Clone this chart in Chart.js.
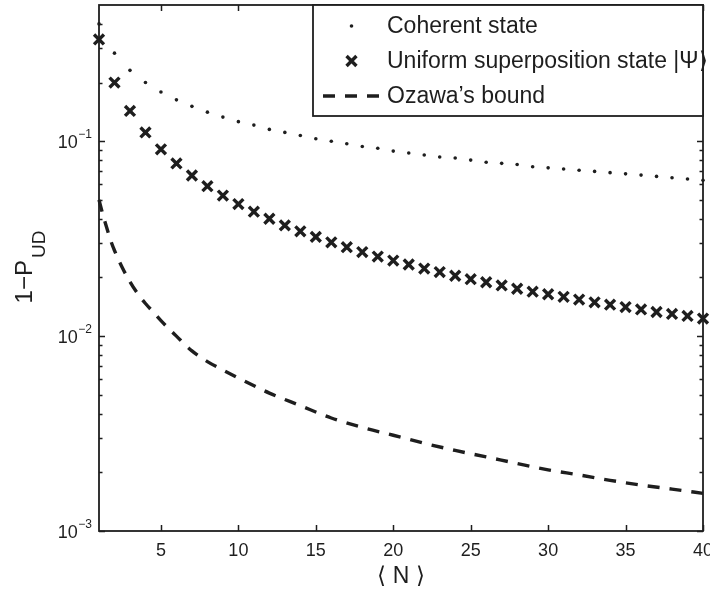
<!DOCTYPE html>
<html><head><meta charset="utf-8">
<script src="https://cdn.jsdelivr.net/npm/chart.js@4.4.1/dist/chart.umd.min.js"></script>
<style>html,body{margin:0;padding:0;background:#fff;}#wrap{width:710px;height:590px;}</style>
</head><body><div id="wrap"><canvas id="c" width="710" height="590"></canvas></div>
<script>
// ---- data ----
const nValues = [1,2,3,4,5,6,7,8,9,10,11,12,13,14,15,16,17,18,19,20,21,22,23,24,25,26,27,28,29,30,31,32,33,34,35,36,37,38,39,40];
const coherentValues = [0.400,0.283,0.231,0.200,0.179,0.163,0.151,0.141,0.133,0.126,0.121,0.115,0.111,0.107,0.103,0.100,0.097,0.094,0.092,0.089,0.087,0.085,0.083,0.082,0.080,0.078,0.077,0.076,0.074,0.073,0.072,0.071,0.070,0.069,0.068,0.067,0.066,0.065,0.064,0.063];
const uniformValues = [0.333,0.200,0.143,0.111,0.0909,0.0769,0.0667,0.0588,0.0526,0.0476,0.0435,0.0400,0.0370,0.0345,0.0323,0.0303,0.0286,0.0270,0.0256,0.0244,0.0233,0.0222,0.0213,0.0204,0.0196,0.0189,0.0182,0.0175,0.0169,0.0164,0.0159,0.0154,0.0149,0.0145,0.0141,0.0137,0.0133,0.0130,0.0127,0.0123];
const ozawaN = [1,1.25,1.5,1.75,2,2.5,3,3.5,4,4.5,5,6,7,8,9,10,12,14,16,18,20,22,24,26,28,30,32,34,36,38,40];
const ozawaValues = [0.050,0.042,0.036,0.031,0.0275,0.0225,0.0190,0.0165,0.0147,0.0133,0.0120,0.0100,0.0084,0.0074,0.0067,0.0061,0.0051,0.0044,0.0038,0.0034,0.0031,0.00282,0.00259,0.0024,0.00222,0.00206,0.00194,0.00182,0.00172,0.00164,0.00156];
const xTickValues = [5,10,15,20,25,30,35,40];
const yMajorTicks = [0.001,0.01,0.1];
const yTickExponents = ['\u22123','\u22122','\u22121'];
const seriesLabels = ['Coherent state','Uniform superposition state |\u03A8\u27E9','Ozawa\u2019s bound'];
const xTitle = '\u27E8 N \u27E9';
const yTitleMain = '1\u2212P';
const yTitleSub = 'UD';

const INK = '#1e1e1e';
const FONT = '"Liberation Sans", Arial, Helvetica, sans-serif';

function toXY(xs, ys){ return xs.map((x,i)=>({x:x, y:ys[i]})); }

function drawCross(ctx, x, y, r, lw){
  const d = r*Math.SQRT1_2;
  ctx.save();
  ctx.lineWidth = lw; ctx.strokeStyle = INK; ctx.lineCap='butt';
  ctx.beginPath();
  ctx.moveTo(x-d,y-d); ctx.lineTo(x+d,y+d);
  ctx.moveTo(x-d,y+d); ctx.lineTo(x+d,y-d);
  ctx.stroke();
  ctx.restore();
}

const decor = {
  id:'decor',
  beforeDatasetsDraw(chart){
    const {ctx, chartArea:a} = chart;
    const xs = chart.scales.x, ys = chart.scales.y;
    ctx.save();
    ctx.strokeStyle = INK; ctx.lineWidth = 1.5;
    ctx.beginPath();
    xTickValues.forEach(v=>{
      const px = Math.round(xs.getPixelForValue(v))+0.5;
      ctx.moveTo(px,a.bottom); ctx.lineTo(px,a.bottom-6);
      ctx.moveTo(px,a.top); ctx.lineTo(px,a.top+6);
    });
    for(let k=-3;k<=-1;k++){
      for(let m=1;m<=9;m++){
        const v = m*Math.pow(10,k);
        if (v < ys.min*0.999 || v > ys.max*0.999) continue;
        const py = Math.round(ys.getPixelForValue(v))+0.5;
        const len = (m===1)?6:3.5;
        ctx.moveTo(a.left,py); ctx.lineTo(a.left+len,py);
        ctx.moveTo(a.right,py); ctx.lineTo(a.right-len,py);
      }
    }
    ctx.stroke();
    ctx.lineWidth = 1.8;
    ctx.strokeRect(a.left, a.top, a.right-a.left, a.bottom-a.top);
    ctx.fillStyle = INK;
    yMajorTicks.forEach((v,i)=>{
      const py = ys.getPixelForValue(v);
      ctx.textAlign='right'; ctx.textBaseline='alphabetic';
      ctx.font = '12px '+FONT;
      ctx.fillText(yTickExponents[i], 92, py-3.5);
      const sw = ctx.measureText(yTickExponents[i]).width;
      ctx.font = '18px '+FONT;
      ctx.fillText('10', 92-sw-0.5, py+7);
    });
    ctx.save();
    ctx.translate(32, 267);
    ctx.rotate(-Math.PI/2);
    ctx.textAlign='left'; ctx.textBaseline='alphabetic';
    ctx.font = '24px '+FONT;
    const w1 = ctx.measureText(yTitleMain).width;
    ctx.font = '19px '+FONT;
    const w2 = ctx.measureText(yTitleSub).width;
    const gap = 2;
    const start = -(w1+gap+w2)/2;
    ctx.font = '24px '+FONT;
    ctx.fillText(yTitleMain, start, 0);
    ctx.font = '19px '+FONT;
    ctx.fillText(yTitleSub, start+w1+gap, 13);
    ctx.restore();
    ctx.restore();
  },
  afterDatasetsDraw(chart){
    const {ctx, chartArea:a} = chart;
    const ds = chart.data.datasets;
    const bx = 313, by = a.top, bw = a.right-313, bh = 111;
    ctx.save();
    ctx.fillStyle='#fff';
    ctx.fillRect(bx,by,bw,bh);
    ctx.strokeStyle=INK; ctx.lineWidth=1.8;
    ctx.strokeRect(bx,by,bw,bh);
    const rows = [a.top+21, a.top+56, a.top+91];
    const cx = 351.5;
    ctx.fillStyle=INK;
    ctx.beginPath(); ctx.arc(cx, rows[0], ds[0].pointRadius, 0, Math.PI*2); ctx.fill();
    drawCross(ctx, cx, rows[1], ds[1].pointRadius, ds[1].pointBorderWidth);
    ctx.save();
    ctx.strokeStyle=INK; ctx.lineWidth=ds[2].borderWidth;
    ctx.setLineDash(ds[2].borderDash);
    ctx.beginPath(); ctx.moveTo(323, rows[2]); ctx.lineTo(380, rows[2]); ctx.stroke();
    ctx.restore();
    ctx.font='23px '+FONT; ctx.fillStyle=INK;
    ctx.textAlign='left'; ctx.textBaseline='middle';
    ds.forEach((d,i)=>ctx.fillText(d.label, 387, rows[i]+1));
    ctx.restore();
  }
};

new Chart(document.getElementById('c'), {
  type:'scatter',
  data:{ datasets:[
    { label: seriesLabels[0], data: toXY(nValues, coherentValues), showLine:false,
      pointStyle:'circle', pointRadius:1.8, pointBackgroundColor:INK, pointBorderWidth:0, clip:false },
    { label: seriesLabels[1], data: toXY(nValues, uniformValues), showLine:false,
      pointStyle:'crossRot', pointRadius:7, pointBorderColor:INK, pointBorderWidth:3.4, clip:false },
    { label: seriesLabels[2], data: toXY(ozawaN, ozawaValues), showLine:true,
      borderColor:INK, borderWidth:3.4, borderDash:[12,10], pointRadius:0,
      cubicInterpolationMode:'monotone', fill:false, clip:false }
  ]},
  options:{
    responsive:false, animation:false, devicePixelRatio:1,
    layout:{ autoPadding:false, padding:{ top:5, right:7, left:0, bottom:0 } },
    plugins:{ legend:{display:false}, tooltip:{enabled:false} },
    scales:{
      x:{ type:'linear', min:1, max:40,
        afterBuildTicks: s => { s.ticks = xTickValues.map(v=>({value:v})); },
        afterFit: s => { s.height = 59; s.paddingLeft = 0; s.paddingRight = 0; s.paddingTop = 0; s.paddingBottom = 0; },
        grid:{ display:false, drawTicks:false }, border:{ display:false },
        ticks:{ font:{ size:18, family:FONT }, color:INK, padding:9, maxRotation:0, autoSkip:false },
        title:{ display:true, text:xTitle, font:{ size:23, family:FONT }, color:INK, padding:{top:0,bottom:0} }
      },
      y:{ type:'logarithmic', min:0.001, max:0.5,
        afterFit: s => { s.width = 99; s.paddingLeft = 0; s.paddingRight = 0; s.paddingTop = 0; s.paddingBottom = 0; },
        grid:{ display:false, drawTicks:false }, border:{ display:false },
        ticks:{ display:false }
      }
    }
  },
  plugins:[decor]
});
</script></body></html>
